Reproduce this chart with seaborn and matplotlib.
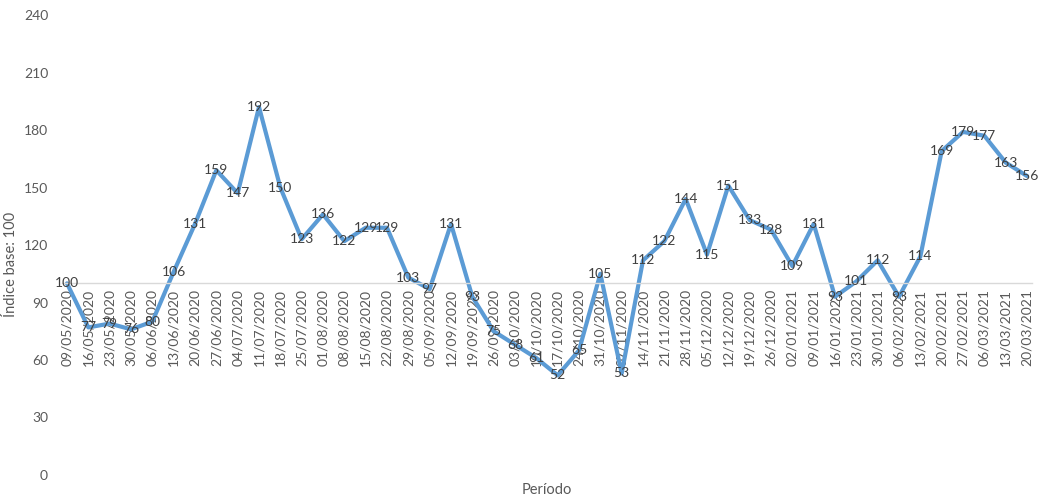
import matplotlib
matplotlib.use("Agg")
import matplotlib.pyplot as plt
import seaborn as sns
import pandas as pd

dates = ["09/05/2020", "16/05/2020", "23/05/2020", "30/05/2020", "06/06/2020",
         "13/06/2020", "20/06/2020", "27/06/2020", "04/07/2020", "11/07/2020",
         "18/07/2020", "25/07/2020", "01/08/2020", "08/08/2020", "15/08/2020",
         "22/08/2020", "29/08/2020", "05/09/2020", "12/09/2020", "19/09/2020",
         "26/09/2020", "03/10/2020", "10/10/2020", "17/10/2020", "24/10/2020",
         "31/10/2020", "07/11/2020", "14/11/2020", "21/11/2020", "28/11/2020",
         "05/12/2020", "12/12/2020", "19/12/2020", "26/12/2020", "02/01/2021",
         "09/01/2021", "16/01/2021", "23/01/2021", "30/01/2021", "06/02/2021",
         "13/02/2021", "20/02/2021", "27/02/2021", "06/03/2021", "13/03/2021",
         "20/03/2021"]
values = [100, 77, 79, 76, 80, 106, 131, 159, 147, 192,
          150, 123, 136, 122, 129, 129, 103, 97, 131, 93,
          75, 68, 61, 52, 65, 105, 53, 112, 122, 144,
          115, 151, 133, 128, 109, 131, 93, 101, 112, 93,
          114, 169, 179, 177, 163, 156]
yticks = [0, 30, 60, 90, 120, 150, 180, 210, 240]
baseline = 100

sns.set_theme(style="white")
plt.rcParams['font.family'] = ['Lato', 'DejaVu Sans']

df = pd.DataFrame({"pos": range(len(dates)), "valor": values})

W, H = 1038, 497
fig = plt.figure(figsize=(W / 100, H / 100), dpi=100)
L, R, T, B = 62, 1032, 15, 475
ax = fig.add_axes([L / W, (H - B) / H, (R - L) / W, (B - T) / H])

sns.lineplot(data=df, x="pos", y="valor", ax=ax, color="#5B9BD5", linewidth=3.0)

for x, v in zip(df["pos"], df["valor"]):
    ax.text(x, v, str(v), ha="center", va="center", fontsize=10, color="#404040")

ax.set_ylim(0, 240)
ax.set_yticks(yticks)
ax.set_xlim(-0.234, len(dates) - 1 + 0.234)
ax.set_xticks(range(len(dates)))
ax.set_xticklabels(dates)
ax.tick_params(axis="y", labelsize=10, labelcolor="#595959", length=0, pad=10)
ax.tick_params(axis="x", length=0, pad=4, labelsize=10, labelcolor="#595959",
               labelrotation=90)
for lbl in ax.get_xticklabels():
    lbl.set_rotation(90)
    lbl.set_ha("center")
    lbl.set_va("top")

for s in ["top", "right", "left"]:
    ax.spines[s].set_visible(False)
ax.spines["bottom"].set_position(("data", baseline))
ax.spines["bottom"].set_color("#D9D9D9")
ax.spines["bottom"].set_linewidth(1.0)

ax.set_xlabel("Período", fontsize=10.5, color="#595959")
ax.set_ylabel("Índice base: 100", fontsize=10.5, color="#595959")
ax.xaxis.set_label_coords(0.5, -8 / (B - T))
ax.yaxis.set_label_coords(-44 / (R - L), 0.457)

fig.savefig("out.png", dpi=100)
